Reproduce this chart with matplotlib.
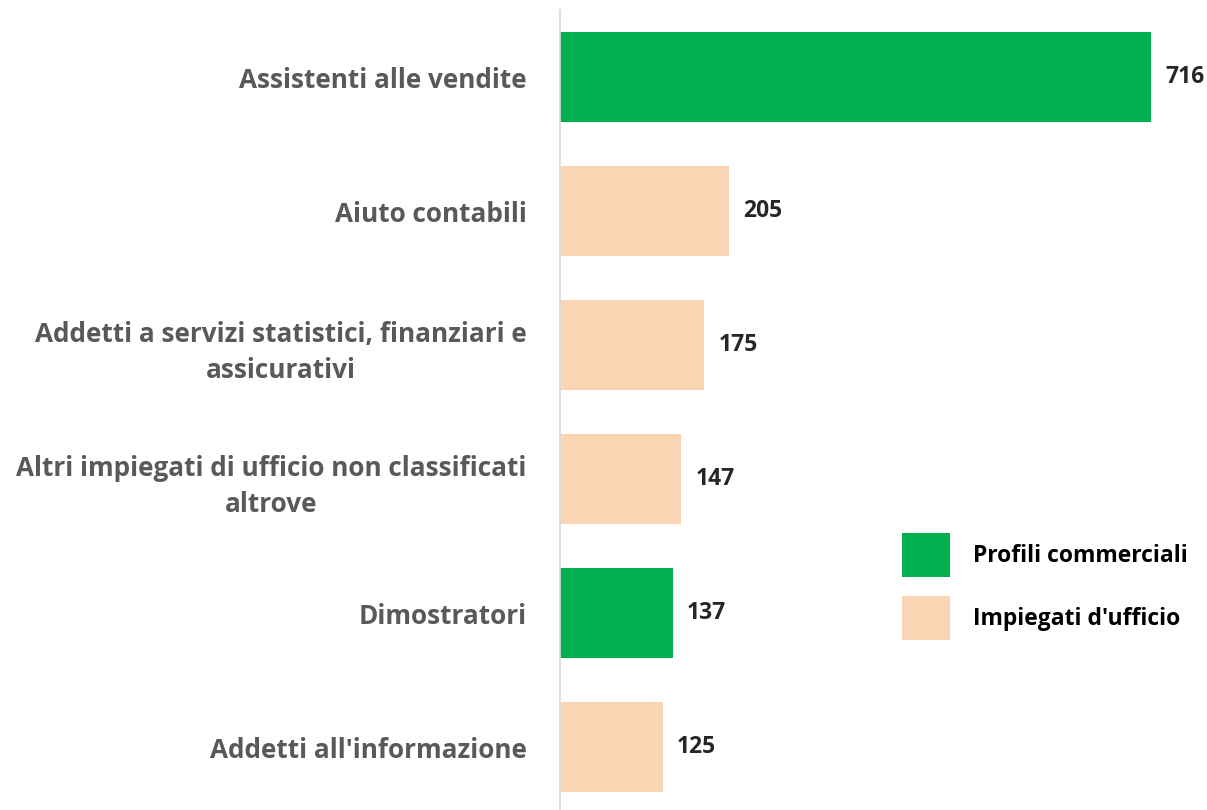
import matplotlib
matplotlib.use("Agg")
import matplotlib.pyplot as plt
from matplotlib.patches import Patch

categories = [
    "Assistenti alle vendite",
    "Aiuto contabili",
    "Addetti a servizi statistici, finanziari e\nassicurativi",
    "Altri impiegati di ufficio non classificati\naltrove",
    "Dimostratori",
    "Addetti all'informazione",
]
values = [716, 205, 175, 147, 137, 125]
groups = ["Profili commerciali", "Impiegati d'ufficio", "Impiegati d'ufficio",
          "Impiegati d'ufficio", "Profili commerciali", "Impiegati d'ufficio"]
group_names = ["Profili commerciali", "Impiegati d'ufficio"]
group_colors = {"Profili commerciali": "#00B050", "Impiegati d'ufficio": "#FAD4B3"}

W, H = 1207, 810
fig = plt.figure(figsize=(W / 100, H / 100), dpi=100)
ax = fig.add_axes([560 / W, 0, (W - 560) / W, 800 / H])

font = "Open Sans"
ypos = list(range(len(categories)))
colors = [group_colors[g] for g in groups]
ax.barh(ypos, values, height=0.67, color=colors, zorder=2)

ax.set_xlim(0, 716 * (W - 560) / (1151 - 560))
ax.set_ylim(5.47, -0.5)
ax.set_yticks(ypos)
ax.set_yticklabels(categories, fontsize=18.8, fontweight="bold", color="#595959",
                   family=font, linespacing=1.45)
for t in ax.get_yticklabels():
    t.set_multialignment("center")
ax.tick_params(axis="y", length=0, pad=24)
ax.set_xticks([])
for s in ["top", "right", "bottom"]:
    ax.spines[s].set_visible(False)
ax.spines["left"].set_color("#D9D9D9")
ax.spines["left"].set_linewidth(1.2)

for y, v in zip(ypos, values):
    ax.annotate(str(v), xy=(v, y), xytext=(10, 0), textcoords="offset points",
                va="center", ha="left", fontsize=16.5, fontweight="bold",
                color="#262626", family=font)

handles = [Patch(facecolor=group_colors[g], edgecolor="none") for g in group_names]
fig.legend(handles, group_names, loc="upper left",
           bbox_to_anchor=(902 / W, 1 - 533 / H), frameon=False,
           prop={"family": font, "weight": "bold", "size": 16.5},
           handlelength=2.1, handleheight=2.55, labelspacing=0.85,
           handletextpad=1.0, borderpad=0, borderaxespad=0)

fig.savefig("out.png", dpi=100)
